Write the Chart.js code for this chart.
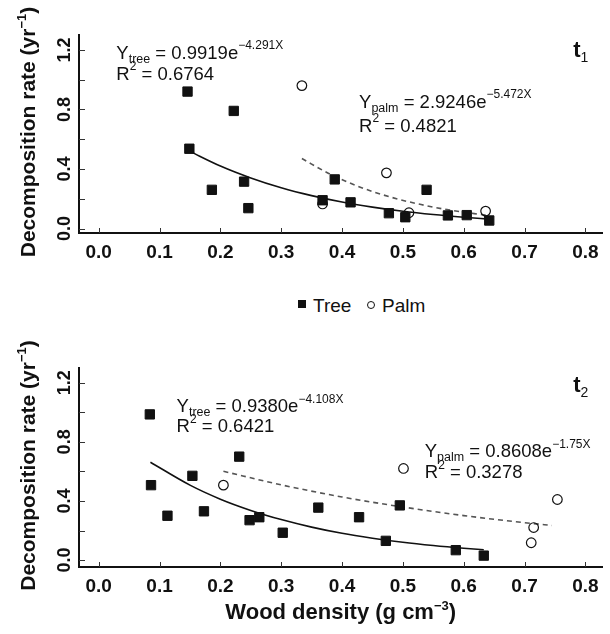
<!DOCTYPE html>
<html>
<head>
<meta charset="utf-8">
<title>Decomposition rate vs wood density</title>
<script src="https://cdn.jsdelivr.net/npm/chart.js@4.4.1/dist/chart.umd.min.js"></script>
<style>
  html, body { margin: 0; padding: 0; background: #fff; }
  body { position: relative; width: 610px; height: 634px; overflow: hidden;
         font-family: "Liberation Sans", Arial, sans-serif; color: #111; }
  .panel { position: absolute; left: 0; width: 610px; }
  #top { top: 0; height: 270px; }
  #bottom { top: 330px; height: 304px; }
  .lg { position: absolute; }
  .lg-text { font-size: 19px; line-height: 19px; top: 296px; }
  #sq { left: 298px; top: 300px; width: 8px; height: 8px; background: #111; }
  #ci { left: 367px; top: 301px; width: 8px; height: 8px; border: 1px solid #111;
        border-radius: 50%; box-sizing: border-box; }
</style>
</head>
<body>
<div class="panel" id="top"><canvas id="chartT1"></canvas></div>
<div class="panel" id="bottom"><canvas id="chartT2"></canvas></div>
<span class="lg" id="sq"></span><span class="lg lg-text" style="left:313px">Tree</span>
<span class="lg" id="ci"></span><span class="lg lg-text" style="left:382px">Palm</span>
<script>
// ticks shared by both panels
const xTicks = [0, 0.1, 0.2, 0.3, 0.4, 0.5, 0.6, 0.7, 0.8];
const yTicks = [0, 0.2, 0.4, 0.6, 0.8, 1.0, 1.2];
const yTickLabels = ["0.0", "", "0.4", "", "0.8", "", "1.2"];

// panel t1
const t1TreeX = [0.146, 0.149, 0.186, 0.222, 0.239, 0.246, 0.368, 0.388, 0.414, 0.477, 0.504, 0.539, 0.574, 0.605, 0.642];
const t1TreeY = [0.92, 0.536, 0.26, 0.79, 0.315, 0.137, 0.19, 0.33, 0.176, 0.103, 0.076, 0.26, 0.088, 0.09, 0.054];
const t1PalmX = [0.334, 0.368, 0.473, 0.51, 0.636];
const t1PalmY = [0.96, 0.165, 0.374, 0.106, 0.117];
// fitted curves
const t1TreeFitX = [0.149, 0.2, 0.25, 0.3, 0.35, 0.4, 0.45, 0.5, 0.55, 0.6, 0.642];
const t1TreeFitY = [0.52, 0.42, 0.34, 0.274, 0.221, 0.178, 0.144, 0.116, 0.094, 0.076, 0.063];
const t1PalmFitX = [0.334, 0.38, 0.43, 0.48, 0.53, 0.58, 0.636];
const t1PalmFitY = [0.47, 0.366, 0.278, 0.211, 0.161, 0.122, 0.09];

// panel t2
const t2TreeX = [0.084, 0.086, 0.113, 0.154, 0.173, 0.231, 0.248, 0.264, 0.3025, 0.361, 0.428, 0.472, 0.495, 0.587, 0.633];
const t2TreeY = [0.986, 0.507, 0.30, 0.57, 0.33, 0.70, 0.27, 0.29, 0.185, 0.355, 0.29, 0.13, 0.37, 0.067, 0.03];
const t2PalmX = [0.205, 0.501, 0.711, 0.715, 0.754];
const t2PalmY = [0.507, 0.62, 0.117, 0.22, 0.41];
const t2TreeFitX = [0.085, 0.15, 0.2, 0.25, 0.3, 0.35, 0.4, 0.45, 0.5, 0.55, 0.6, 0.633];
const t2TreeFitY = [0.662, 0.507, 0.412, 0.336, 0.274, 0.223, 0.181, 0.148, 0.12, 0.098, 0.08, 0.07];
const t2PalmFitX = [0.205, 0.3, 0.4, 0.5, 0.6, 0.7, 0.745];
const t2PalmFitY = [0.601, 0.509, 0.427, 0.359, 0.301, 0.253, 0.234];

const FONT = '"Liberation Sans", Arial, sans-serif';
Chart.defaults.font.family = FONT;
Chart.defaults.color = "#111";

// rich text pieces: [text, style]
const styles = {
  n:    { font: "18.5px " + FONT, dy: 0 },
  sub:  { font: "12.5px " + FONT, dy: 4 },
  sup:  { font: "12px " + FONT, dy: -9.5 },
  tb:   { font: "bold 21px " + FONT, dy: 0 },
  xb:   { font: "bold 22px " + FONT, dy: 0 },
  tsup: { font: "bold 13px " + FONT, dy: -9 },
  pb:   { font: "bold 22px " + FONT, dy: 0 },
  psub: { font: "14px " + FONT, dy: 5 },
};
const yTitle = [["Decomposition rate (yr", "tb"], ["\u22121", "tsup"], [")", "tb"]];
const xTitle = [["Wood density (g cm", "xb"], ["\u22123", "tsup"], [")", "xb"]];

function richWidth(ctx, parts) {
  let w = 0;
  parts.forEach((p) => { ctx.font = styles[p[1]].font; w += ctx.measureText(p[0]).width; });
  return w;
}
function drawRich(ctx, parts, x, y) {
  parts.forEach((p) => {
    const s = styles[p[1]];
    ctx.font = s.font;
    ctx.fillText(p[0], x, y + s.dy);
    x += ctx.measureText(p[0]).width;
  });
}

const pts = (xs, ys) => xs.map((x, i) => ({ x: x, y: ys[i] }));

// inward ticks, rotated y labels, axis titles and equations
const decor = {
  id: "decor",
  afterDraw(chart, args, opts) {
    const ctx = chart.ctx, xs = chart.scales.x, ys = chart.scales.y;
    const left = xs.left, base = ys.bottom;
    ctx.save();
    ctx.fillStyle = "#111";
    ctx.strokeStyle = "#333";
    ctx.lineWidth = 1;
    ctx.beginPath();
    xTicks.forEach((v) => {
      const px = Math.round(xs.getPixelForValue(v)) + 0.5;
      ctx.moveTo(px, base); ctx.lineTo(px, base - 5);
    });
    yTicks.forEach((v) => {
      const py = Math.round(ys.getPixelForValue(v)) + 0.5;
      ctx.moveTo(left, py); ctx.lineTo(left + 6, py);
    });
    ctx.stroke();

    ctx.font = "bold 18px " + FONT;
    ctx.textAlign = "center";
    ctx.textBaseline = "middle";
    yTicks.forEach((v, i) => {
      if (!yTickLabels[i]) return;
      ctx.save();
      ctx.translate(65, ys.getPixelForValue(v));
      ctx.rotate(-Math.PI / 2);
      ctx.fillText(yTickLabels[i], 0, 0);
      ctx.restore();
    });
    ctx.textAlign = "left";
    ctx.textBaseline = "alphabetic";

    ctx.save();
    ctx.translate(35, (ys.top + ys.bottom) / 2 - 2);
    ctx.rotate(-Math.PI / 2);
    drawRich(ctx, yTitle, -richWidth(ctx, yTitle) / 2, 0);
    ctx.restore();

    if (opts.xTitle) {
      const w = richWidth(ctx, xTitle);
      drawRich(ctx, xTitle, (xs.left + xs.right) / 2 - w / 2, base + 52);
    }
    opts.notes.forEach((n) => drawRich(ctx, n.parts, xs.getPixelForValue(n.x), ys.getPixelForValue(n.y)));
    ctx.restore();
  },
};

function makeChart(id, d, yMin, padTop, xAxisHeight, notes, showXTitle) {
  return new Chart(document.getElementById(id), {
    type: "scatter",
    data: {
      datasets: [
        { label: "Tree", data: pts(d.treeX, d.treeY), pointStyle: "rect", pointRadius: 6.6,
          backgroundColor: "#111", borderColor: "#111", borderWidth: 1 },
        { label: "Palm", data: pts(d.palmX, d.palmY), pointStyle: "circle", pointRadius: 4.8,
          backgroundColor: "rgba(255,255,255,0)", borderColor: "#111", borderWidth: 1.2 },
        { label: "Tree fit", data: pts(d.treeFitX, d.treeFitY), showLine: true, pointRadius: 0,
          borderColor: "#111", borderWidth: 1.6, cubicInterpolationMode: "monotone" },
        { label: "Palm fit", data: pts(d.palmFitX, d.palmFitY), showLine: true, pointRadius: 0,
          borderColor: "#555", borderWidth: 1.6, borderDash: [5, 4], cubicInterpolationMode: "monotone" },
      ],
    },
    options: {
      responsive: true,
      maintainAspectRatio: false,
      animation: false,
      events: [],
      layout: { padding: { top: padTop, left: 0, right: 0, bottom: 0 } },
      plugins: {
        legend: { display: false },
        tooltip: { enabled: false },
        decor: { notes: notes, xTitle: showXTitle },
      },
      scales: {
        x: {
          type: "linear", min: -0.0324, max: 0.828,
          afterBuildTicks: (s) => { s.ticks = xTicks.map((v) => ({ value: v })); },
          afterFit: (s) => { s.height = xAxisHeight; s.paddingLeft = 0; s.paddingRight = 0; },
          grid: { display: false, drawTicks: false },
          border: { display: true, color: "#111", width: 2 },
          ticks: { font: { size: 19, weight: "bold" }, color: "#111", padding: 8,
                   maxRotation: 0, autoSkip: false, callback: (v) => Number(v).toFixed(1) },
        },
        y: {
          type: "linear", min: yMin, max: 1.3,
          afterBuildTicks: (s) => { s.ticks = yTicks.map((v) => ({ value: v })); },
          afterFit: (s) => { s.width = 79; s.paddingTop = 0; s.paddingBottom = 0; },
          grid: { display: false, drawTicks: false },
          border: { display: true, color: "#111", width: 2 },
          ticks: { display: false },
        },
      },
    },
    plugins: [decor],
  });
}

makeChart("chartT1",
  { treeX: t1TreeX, treeY: t1TreeY, palmX: t1PalmX, palmY: t1PalmY,
    treeFitX: t1TreeFitX, treeFitY: t1TreeFitY, palmFitX: t1PalmFitX, palmFitY: t1PalmFitY },
  -0.03, 35, 37,
  [
    { x: 0.029, y: 1.142, parts: [["Y", "n"], ["tree", "sub"], [" = 0.9919e", "n"], ["\u22124.291X", "sup"]] },
    { x: 0.029, y: 1.0, parts: [["R", "n"], ["2", "sup"], [" = 0.6764", "n"]] },
    { x: 0.428, y: 0.81, parts: [["Y", "n"], ["palm", "sub"], [" = 2.9246e", "n"], ["\u22125.472X", "sup"]] },
    { x: 0.428, y: 0.65, parts: [["R", "n"], ["2", "sup"], [" = 0.4821", "n"]] },
    { x: 0.78, y: 1.155, parts: [["t", "pb"], ["1", "psub"]] },
  ], false);

makeChart("chartT2",
  { treeX: t2TreeX, treeY: t2TreeY, palmX: t2PalmX, palmY: t2PalmY,
    treeFitX: t2TreeFitX, treeFitY: t2TreeFitY, palmFitX: t2PalmFitX, palmFitY: t2PalmFitY },
  -0.047, 38, 67,
  [
    { x: 0.128, y: 1.0, parts: [["Y", "n"], ["tree", "sub"], [" = 0.9380e", "n"], ["\u22124.108X", "sup"]] },
    { x: 0.128, y: 0.865, parts: [["R", "n"], ["2", "sup"], [" = 0.6421", "n"]] },
    { x: 0.536, y: 0.696, parts: [["Y", "n"], ["palm", "sub"], [" = 0.8608e", "n"], ["\u22121.75X", "sup"]] },
    { x: 0.536, y: 0.554, parts: [["R", "n"], ["2", "sup"], [" = 0.3278", "n"]] },
    { x: 0.78, y: 1.135, parts: [["t", "pb"], ["2", "psub"]] },
  ], true);
</script>
</body>
</html>
